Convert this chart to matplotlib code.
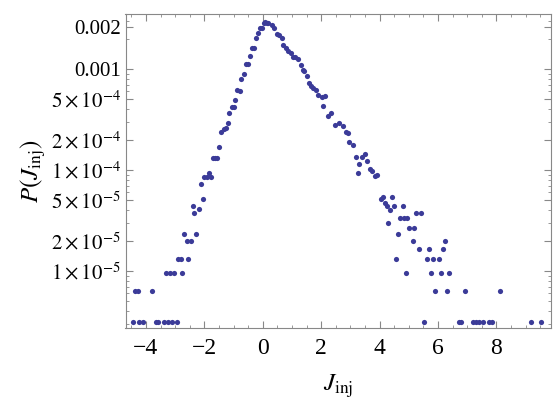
import numpy as np
import matplotlib
matplotlib.use('Agg')
from matplotlib import pyplot as plt
from matplotlib.ticker import FixedLocator, NullFormatter

# left flank
j_left = [-4.43, -4.24, -4.09, -3.66, -3.60, -3.37, -3.23, -3.10, -2.95,
          -4.37, -4.28, -3.80,
          -3.32, -3.18, -3.04, -2.75,
          -2.89, -2.81, -2.55,
          -2.60, -2.47, -2.68, -2.27, -2.34, -2.19, -2.40, -2.05, -2.12,
          -2.00, -1.91, -1.77, -1.84, -1.71, -1.63, -1.55, -1.49,
          -1.43, -1.34, -1.27, -1.20, -1.14, -1.06, -0.99, -0.94,
          -0.87, -0.79, -0.73, -0.65, -0.58, -0.51, -0.45, -0.37, -0.31,
          -0.24, -0.17, -0.09, -0.03, 0.05, 0.14]
p_left = [3.1e-6] * 9 + [6.3e-6] * 3 + [9.6e-6] * 4 + [1.31e-5] * 3 + \
    [1.98e-5, 1.98e-5, 2.32e-5, 2.32e-5, 3.72e-5, 4.08e-5, 4.40e-5, 5.13e-5, 7.3e-5,
     8.5e-5, 8.5e-5, 8.5e-5, 9.3e-5, 1.31e-4, 1.31e-4, 1.31e-4, 1.70e-4,
     2.39e-4, 2.55e-4, 2.62e-4, 2.94e-4, 3.64e-4, 4.23e-4, 4.23e-4, 4.93e-4,
     6.19e-4, 6.0e-4, 7.91e-4, 8.87e-4, 1.12e-3, 1.12e-3, 1.35e-3, 1.60e-3, 1.60e-3,
     2.01e-3, 2.26e-3, 2.53e-3, 2.53e-3, 2.83e-3, 2.83e-3]

# right flank
j_right = [0.08, 0.19, 0.31, 0.39, 0.48, 0.57, 0.65, 0.71, 0.80, 0.88, 0.96, 1.03,
           1.12, 1.22, 1.30, 1.37, 1.41, 1.51, 1.58, 1.64, 1.73, 1.83, 1.90, 2.02,
           2.13, 2.05, 2.23, 2.33, 2.48, 2.62, 2.74, 2.85, 2.92, 2.97, 3.08, 3.18,
           3.31, 3.25, 3.39, 3.50, 3.58, 3.67, 3.74, 3.85, 3.92, 4.04, 4.11, 4.19,
           4.25, 4.29, 4.36, 4.43, 4.50, 4.57, 4.64, 4.70, 4.79, 4.84, 4.93, 4.91,
           5.02, 5.19, 5.14, 5.25, 5.41, 5.34, 5.62, 5.68, 5.75, 5.82, 5.89, 6.04,
           6.10, 6.16, 6.24, 6.31, 6.38, 6.94, 8.12,
           5.53, 6.73, 6.80, 7.21, 7.30, 7.42, 7.55, 7.76, 7.85, 9.18, 9.52]
p_right = [2.94e-3, 2.87e-3, 2.73e-3, 2.53e-3, 2.22e-3, 2.17e-3, 2.01e-3, 1.73e-3,
           1.60e-3, 1.52e-3, 1.43e-3, 1.31e-3, 1.31e-3, 1.25e-3, 1.10e-3, 9.8e-4,
           9.6e-4, 8.59e-4, 7.31e-4, 6.79e-4, 6.49e-4, 6.19e-4, 5.53e-4, 5.32e-4,
           5.40e-4, 4.33e-4, 3.43e-4, 3.64e-4, 2.79e-4, 2.90e-4, 2.73e-4, 2.38e-4,
           2.34e-4, 1.91e-4, 1.77e-4, 1.34e-4, 1.15e-4, 9.3e-5, 1.36e-4, 1.44e-4,
           1.24e-4, 1.02e-4, 9.8e-5, 8.7e-5, 9.0e-5, 5.13e-5, 5.44e-5, 4.75e-5,
           4.40e-5, 3.01e-5, 4.02e-5, 5.44e-5, 4.40e-5, 1.31e-5, 2.32e-5, 3.33e-5,
           4.40e-5, 3.33e-5, 3.33e-5, 9.6e-6, 2.65e-5, 2.65e-5, 1.98e-5, 3.72e-5,
           3.72e-5, 1.64e-5, 1.31e-5, 1.64e-5, 9.6e-6, 1.31e-5, 6.3e-6, 1.31e-5,
           9.6e-6, 1.64e-5, 1.98e-5, 6.3e-6, 9.6e-6, 6.3e-6, 6.3e-6] + [3.1e-6] * 11

ytick_vals = [2.6e-3, 1e-3, 5e-4, 2e-4, 1e-4, 5e-5, 2e-5, 1e-5]
ytick_labels = ['0.002', '0.001', r'$5\times10^{-4}$', r'$2\times10^{-4}$',
                r'$1\times10^{-4}$', r'$5\times10^{-5}$', r'$2\times10^{-5}$',
                r'$1\times10^{-5}$']
xtick_vals = [-4, -2, 0, 2, 4, 6, 8]

plt.rcParams['font.family'] = 'Liberation Serif'
plt.rcParams['mathtext.fontset'] = 'stix'
plt.rcParams['font.size'] = 15

fig = plt.figure(figsize=(5.54, 4.15), dpi=100)
ax = fig.add_axes([125.5 / 554, 87 / 415, 425.5 / 554, 314 / 415])
ax.scatter(j_left + j_right, p_left + p_right, s=14, c='#3b3b98', linewidths=0, zorder=3)
ax.set_yscale('log')
ax.set_xlim(-4.70, 9.87)
ax.set_ylim(2.73e-6, 3.5e-3)

ax.xaxis.set_major_locator(FixedLocator(xtick_vals))
ax.xaxis.set_minor_locator(FixedLocator(np.arange(-4.5, 10, 0.5)))
ax.yaxis.set_major_locator(FixedLocator(ytick_vals))
ax.set_yticklabels(ytick_labels)
minor_y = [v * 10.0 ** e for e in (-6, -5, -4, -3) for v in range(2, 10)]
ax.yaxis.set_minor_locator(FixedLocator(minor_y))
ax.yaxis.set_minor_formatter(NullFormatter())

for s in ax.spines.values():
    s.set_color('#888888')
ax.tick_params(which='both', direction='in', top=True, right=True, color='#888888')
ax.tick_params(which='major', length=5, labelcolor='black', labelsize=15)
ax.tick_params(axis='x', which='major', labelsize=17, pad=7)
ax.tick_params(which='minor', length=2.5)

ax.set_xlabel(r'$J_{\rm inj}$', fontsize=18, labelpad=10)
ax.set_ylabel(r'$P(J_{\rm inj})$', fontsize=18, labelpad=2)

fig.savefig('out.png', dpi=100)
